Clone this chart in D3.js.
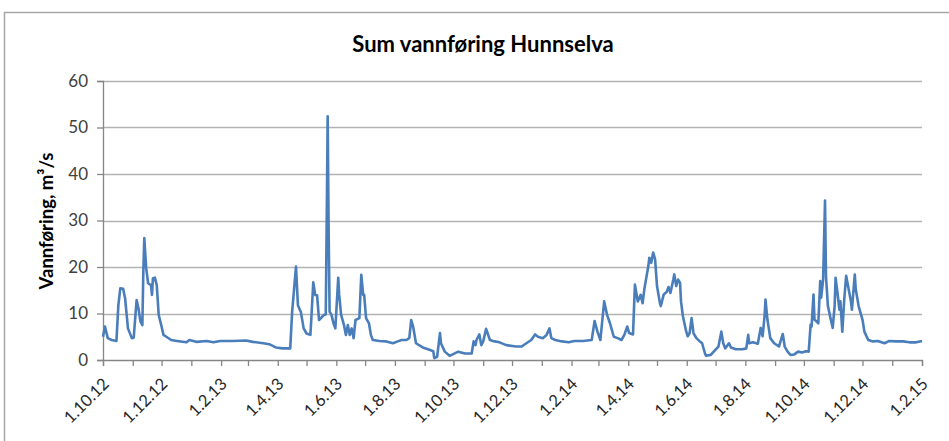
<!DOCTYPE html>
<html>
<head>
<meta charset="utf-8">
<script src="https://cdn.jsdelivr.net/npm/d3@7"></script>
<style>
  body { margin: 0; background: #fff; }
  text { font-family: Lato, "Open Sans", sans-serif; }
</style>
</head>
<body>
<svg id="chart" width="949" height="441"></svg>
<script>
// chart text
var title = "Sum vannføring Hunnselva"
var yLabel = "Vannføring, m³/s"
var yTicks = [0, 10, 20, 30, 40, 50, 60]

// x axis: one tick per month, label every second month
var xStart = "2012-10-01"
var xEnd = "2015-02-01"
var xLabels = ["1.10.12", "1.12.12", "1.2.13", "1.4.13", "1.6.13", "1.8.13", "1.10.13", "1.12.13",
  "1.2.14", "1.4.14", "1.6.14", "1.8.14", "1.10.14", "1.12.14", "1.2.15"]

// flow readings
var dates = [
  "2012-10-01","2012-10-03","2012-10-06","2012-10-10","2012-10-15","2012-10-17","2012-10-19","2012-10-22","2012-10-24","2012-10-27",
  "2012-10-31","2012-11-02","2012-11-05","2012-11-07","2012-11-09","2012-11-11","2012-11-12","2012-11-13","2012-11-15","2012-11-17",
  "2012-11-20","2012-11-21","2012-11-22","2012-11-24","2012-11-26","2012-11-28","2012-12-01","2012-12-03","2012-12-06","2012-12-11",
  "2012-12-17","2012-12-27","2012-12-30","2013-01-06","2013-01-17","2013-01-24","2013-01-31","2013-02-13","2013-02-27","2013-03-06",
  "2013-03-17","2013-03-23","2013-03-30","2013-04-06","2013-04-14","2013-04-16","2013-04-20","2013-04-22","2013-04-24","2013-04-25",
  "2013-04-28","2013-05-01","2013-05-05","2013-05-06","2013-05-08","2013-05-10","2013-05-12","2013-05-14","2013-05-16","2013-05-19",
  "2013-05-21","2013-05-22","2013-05-23","2013-05-24","2013-05-25","2013-05-27","2013-05-29","2013-05-31","2013-06-03","2013-06-04",
  "2013-06-06","2013-06-09","2013-06-11","2013-06-13","2013-06-15","2013-06-17","2013-06-19","2013-06-21","2013-06-25","2013-06-27",
  "2013-06-29","2013-06-30","2013-07-02","2013-07-05","2013-07-07","2013-07-09","2013-07-16","2013-07-23","2013-07-30","2013-08-04",
  "2013-08-08","2013-08-13","2013-08-16","2013-08-18","2013-08-20","2013-08-23","2013-08-30","2013-09-06","2013-09-10","2013-09-11",
  "2013-09-14","2013-09-17","2013-09-18","2013-09-22","2013-09-27","2013-10-06","2013-10-13","2013-10-20","2013-10-22","2013-10-24",
  "2013-10-25","2013-10-28","2013-10-30","2013-11-01","2013-11-04","2013-11-08","2013-11-13","2013-11-18","2013-11-25","2013-12-05",
  "2013-12-11","2013-12-16","2013-12-21","2013-12-25","2013-12-28","2014-01-02","2014-01-06","2014-01-09","2014-01-11","2014-01-15",
  "2014-01-22","2014-01-29","2014-02-04","2014-02-13","2014-02-22","2014-02-25","2014-02-28","2014-03-03","2014-03-07","2014-03-10",
  "2014-03-13","2014-03-17","2014-03-21","2014-03-25","2014-03-28","2014-03-31","2014-04-02","2014-04-06","2014-04-08","2014-04-11",
  "2014-04-14","2014-04-16","2014-04-18","2014-04-22","2014-04-23","2014-04-25","2014-04-27","2014-04-29","2014-05-01","2014-05-04",
  "2014-05-05","2014-05-08","2014-05-11","2014-05-13","2014-05-15","2014-05-18","2014-05-19","2014-05-21","2014-05-23","2014-05-25",
  "2014-05-26","2014-05-28","2014-05-31","2014-06-02","2014-06-04","2014-06-06","2014-06-08","2014-06-11","2014-06-14","2014-06-17",
  "2014-06-20","2014-06-21","2014-06-26","2014-06-30","2014-07-04","2014-07-07","2014-07-09","2014-07-11","2014-07-15","2014-07-17",
  "2014-07-22","2014-07-29","2014-08-02","2014-08-04","2014-08-05","2014-08-09","2014-08-14","2014-08-17","2014-08-19","2014-08-21",
  "2014-08-22","2014-08-24","2014-08-27","2014-08-31","2014-09-05","2014-09-09","2014-09-11","2014-09-14","2014-09-17","2014-09-21",
  "2014-09-25","2014-09-29","2014-10-03","2014-10-06","2014-10-08","2014-10-09","2014-10-11","2014-10-12","2014-10-14","2014-10-16",
  "2014-10-18","2014-10-19","2014-10-21","2014-10-23","2014-10-24","2014-10-26","2014-10-29","2014-10-31","2014-11-02","2014-11-03",
  "2014-11-05","2014-11-07","2014-11-08","2014-11-10","2014-11-12","2014-11-14","2014-11-16","2014-11-19","2014-11-20","2014-11-23",
  "2014-11-24","2014-11-27","2014-12-01","2014-12-03","2014-12-07","2014-12-12","2014-12-17","2014-12-24","2014-12-29","2015-01-05",
  "2015-01-12","2015-01-19","2015-01-26","2015-02-01"
]
var flow = [
  5.0, 7.2, 4.7, 4.3, 4.1, 11.8, 15.4, 15.3, 13.3, 6.8,
  4.7, 4.8, 12.9, 11.0, 8.3, 7.5, 19.0, 26.2, 19.7, 16.5,
  16.1, 14.0, 17.6, 17.7, 16.1, 9.7, 7.2, 5.4, 5.0, 4.3,
  4.1, 3.8, 4.3, 3.9, 4.1, 3.8, 4.1, 4.1, 4.2, 3.9,
  3.6, 3.4, 2.7, 2.5, 2.5, 10.4, 20.1, 11.8, 10.8, 10.4,
  6.8, 5.7, 5.4, 9.0, 16.7, 14.0, 13.9, 8.6, 9.0, 9.7,
  9.8, 30.0, 52.4, 28.0, 10.4, 9.7, 7.9, 6.8, 17.7, 14.0,
  9.7, 7.5, 5.4, 7.5, 5.4, 6.8, 4.7, 8.6, 9.0, 18.3,
  14.0, 14.0, 9.0, 7.9, 5.4, 4.3, 4.1, 4.0, 3.6, 4.0,
  4.3, 4.3, 4.7, 8.6, 7.2, 3.6, 2.7, 2.2, 1.9, 0.4,
  0.7, 5.8, 3.6, 1.8, 0.9, 1.8, 1.4, 1.4, 4.0, 3.2,
  4.3, 5.5, 3.2, 4.0, 6.7, 4.3, 4.0, 3.8, 3.2, 2.9,
  2.9, 3.6, 4.3, 5.5, 5.0, 4.7, 5.4, 6.8, 4.7, 4.3,
  4.0, 3.8, 4.1, 4.1, 4.3, 8.4, 6.1, 4.3, 12.6, 9.7,
  7.9, 5.0, 4.7, 4.3, 5.4, 7.2, 5.8, 5.5, 16.2, 12.6,
  14.0, 12.2, 15.5, 20.2, 22.0, 20.9, 23.1, 21.7, 15.9, 12.3,
  11.6, 14.1, 14.6, 15.7, 14.4, 17.3, 18.4, 15.9, 17.3, 16.6,
  12.6, 9.4, 6.5, 5.1, 5.8, 9.0, 5.8, 4.7, 4.1, 3.6,
  1.4, 0.9, 1.1, 2.0, 2.9, 6.1, 3.6, 2.5, 3.6, 2.7,
  2.3, 2.3, 2.5, 5.4, 3.6, 3.8, 3.5, 6.9, 5.1, 9.4,
  13.0, 8.7, 4.7, 3.6, 2.9, 5.6, 2.9, 1.8, 1.1, 1.2,
  1.8, 1.6, 1.9, 1.8, 7.6, 7.2, 14.1, 8.7, 8.3, 7.9,
  17.0, 13.4, 17.3, 34.3, 18.0, 11.6, 8.7, 6.9, 11.6, 17.7,
  14.4, 10.8, 12.6, 6.1, 13.0, 18.1, 15.9, 12.6, 10.8, 18.4,
  15.2, 11.6, 8.7, 6.1, 4.3, 4.0, 4.1, 3.6, 4.1, 4.0,
  4.0, 3.8, 3.8, 4.1
]

var parseDate = d3.timeParse("%Y-%m-%d")
var data = dates.map(function(d, i) { return { date: parseDate(d), value: flow[i] } })

var svg = d3.select("#chart")
var margin = { left: 103, right: 27, top: 81, bottom: 81 }
var width = 949 - margin.left - margin.right
var height = 441 - margin.top - margin.bottom

// outer chart frame (runs off the right/bottom edge like in the picture)
svg.append("rect")
  .attr("x", 4.5).attr("y", 12.5)
  .attr("width", 960).attr("height", 460)
  .style("fill", "none")
  .style("stroke", "#a6a6a6")
  .style("stroke-width", 1.5)

var x = d3.scaleTime()
  .domain([parseDate(xStart), parseDate(xEnd)])
  .range([0, width])

var y = d3.scaleLinear()
  .domain([0, 60])
  .range([height, 0])

var g = svg.append("g").attr("transform", "translate(" + margin.left + "," + margin.top + ")")

// gridlines
g.selectAll(".grid")
  .data(yTicks.filter(function(t) { return t > 0 }))
  .enter().append("line")
  .attr("x1", 0).attr("x2", width)
  .attr("y1", function(d) { return Math.round(y(d)) + 0.5 })
  .attr("y2", function(d) { return Math.round(y(d)) + 0.5 })
  .style("stroke", "#b3b3b3")
  .style("stroke-width", 1.3)

// y axis
var yAxis = g.append("g")
  .call(d3.axisLeft(y).tickValues(yTicks).tickSize(6).tickPadding(9).tickFormat(d3.format("d")))
yAxis.select(".domain").style("stroke", "#868686").style("stroke-width", 1.3)
yAxis.selectAll(".tick line").style("stroke", "#868686").style("stroke-width", 1.3)
yAxis.selectAll("text")
  .style("font-size", "17px")
  .style("fill", "#404040")

// x axis: tick each month
var months = x.ticks(d3.timeMonth.every(1))
var xAxis = g.append("g")
  .attr("transform", "translate(0," + height + ")")
  .call(d3.axisBottom(x).tickValues(months).tickSize(6).tickFormat(""))
xAxis.select(".domain").style("stroke", "#868686").style("stroke-width", 1.3)
xAxis.selectAll(".tick line").style("stroke", "#868686").style("stroke-width", 1.3)

// rotated labels every second month
var labelDates = months.filter(function(d, i) { return i % 2 === 0 })
g.selectAll(".xlab")
  .data(labelDates)
  .enter().append("text")
  .attr("class", "xlab")
  .attr("transform", function(d) { return "translate(" + (x(d) + 7) + "," + (height + 25) + ") rotate(-45)" })
  .attr("text-anchor", "end")
  .style("font-size", "16.5px")
  .style("fill", "#262626")
  .text(function(d, i) { return xLabels[i] })

// the flow line
var line = d3.line()
  .x(function(d) { return x(d.date) })
  .y(function(d) { return y(d.value) })

g.append("path")
  .datum(data)
  .attr("d", line)
  .style("fill", "none")
  .style("stroke", "#4a7ebb")
  .style("stroke-width", 2.6)
  .style("stroke-linejoin", "round")

// title
svg.append("text")
  .attr("x", 483).attr("y", 52)
  .attr("text-anchor", "middle")
  .style("font-size", "22px")
  .style("font-weight", "bold")
  .style("fill", "#000")
  .text(title)

// y axis label
svg.append("text")
  .attr("transform", "translate(53,221) rotate(-90)")
  .attr("text-anchor", "middle")
  .style("font-size", "18.5px")
  .style("font-weight", "bold")
  .style("fill", "#000")
  .text(yLabel)
</script>
</body>
</html>
